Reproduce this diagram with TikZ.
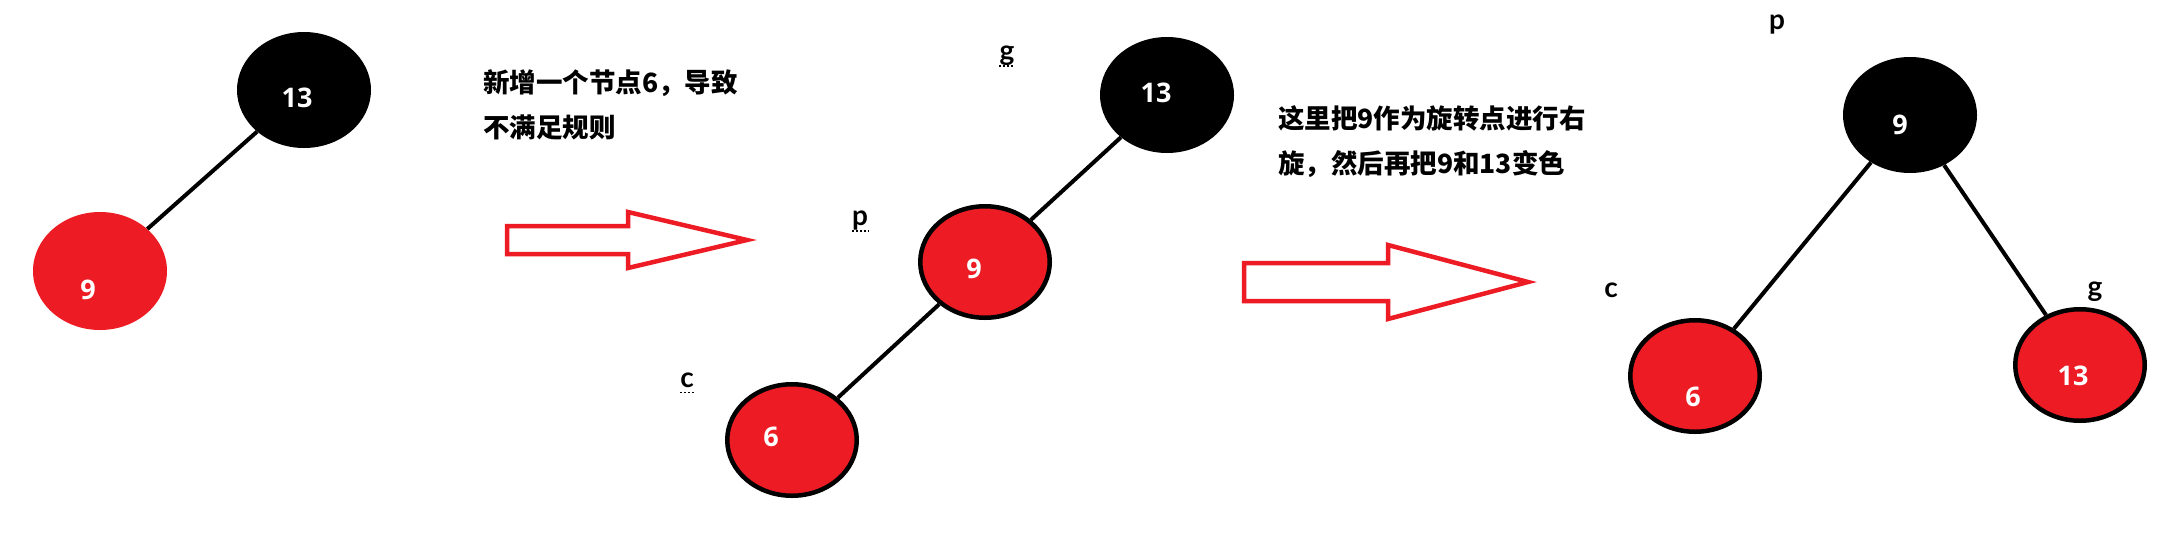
\documentclass[tikz,border=0pt]{standalone}
\usepackage{fontspec}
\newfontfamily\cjk{Noto Sans CJK SC}
\newfontfamily\lat{Open Sans}
\newfontfamily\labfont{Lato}
\usetikzlibrary{shapes.geometric}
\definecolor{pred}{HTML}{ED1C24}
\tikzset{
 blk/.style={ellipse, fill=black, minimum width=134pt, minimum height=116pt, inner sep=0pt},
 redplain/.style={ellipse, fill=pred, minimum width=134pt, minimum height=118pt, inner sep=0pt},
 redring/.style={ellipse, fill=pred, draw=black, line width=4.5pt, minimum width=129.5pt, minimum height=111.5pt, inner sep=0pt},
 num/.style={text=white, font=\lat\bfseries\fontsize{27}{30}\selectfont, inner sep=0pt},
 lab/.style={text=black, font=\labfont\bfseries\fontsize{28}{30}\selectfont, inner sep=0pt},
 note/.style={font=\cjk\bfseries\fontsize{26.5}{45}\selectfont, align=left, anchor=west, inner sep=0pt},
 conn/.style={line width=4pt, draw=black},
 fatarrow/.style={draw=pred, line width=4.5pt, line join=miter},
 squig/.style={line width=1.5pt, dash pattern=on 2pt off 2pt}
}
\begin{document}
\begin{tikzpicture}[x=1pt,y=-1pt]
\fill[white] (0,0) rectangle (2166,552);
\useasboundingbox (0,0) rectangle (2166,552);

% ---- first tree
\node[redplain] (a9) at (100,271) {};
\node[blk] (a13) at (304,90) {};
\node[num] (ta9) at (88,290) {9};
\node[num] (ta13) at (297,98) {13};
\draw[conn] (a9) -- (a13);

% ---- note 1 and arrow 1
\node[note] (n1) at (483,105) {新增一个节点6，导致\\不满足规则};
\draw[fatarrow] (507,226) -- (628,226) -- (628,212) -- (747,240) -- (628,268) -- (628,254) -- (507,254) -- cycle;

% ---- middle tree
\node[blk] (b13) at (1167,95) {};
\node[redring] (b9) at (985,262) {};
\node[redring] (b6) at (792,440) {};
\draw[conn] (b6) -- (b9);
\draw[conn] (b9) -- (b13);
\node[num] (tb13) at (1156,93) {13};
\node[num] (tb9) at (974,269) {9};
\node[num] (tb6) at (771,437) {6};
\node[lab] (bg) at (1007,56) {g};
\node[lab] (bp) at (860,221) {p};
\node[lab] (bc) at (687,380) {c};
\draw[squig] (bg.south west) -- (bg.south east);
\draw[squig] (bp.south west) -- (bp.south east);
\draw[squig] ([yshift=-5pt]bc.south west) -- ([yshift=-5pt]bc.south east);

% ---- note 2 and arrow 2
\node[note] (n2) at (1278,142) {这里把9作为旋转点进行右\\旋，然后再把9和13变色};
\draw[fatarrow] (1244,263) -- (1388,263) -- (1388,245) -- (1528,282) -- (1388,319) -- (1388,301) -- (1244,301) -- cycle;

% ---- right tree
\node[blk] (c9) at (1910,115) {};
\node[redring] (c6) at (1695,376) {};
\node[redring] (c13) at (2080,365) {};
\draw[conn] (c9) -- (c6);
\draw[conn] (c9) -- (c13);
\node[num] (tc9) at (1900,125) {9};
\node[num] (tc6) at (1693,397) {6};
\node[num] (tc13) at (2073,376) {13};
\node[lab] (cp) at (1777,25) {p};
\node[lab] (cc) at (1611,290) {c};
\node[lab] (cg) at (2095,292) {g};
\end{tikzpicture}
\end{document}
